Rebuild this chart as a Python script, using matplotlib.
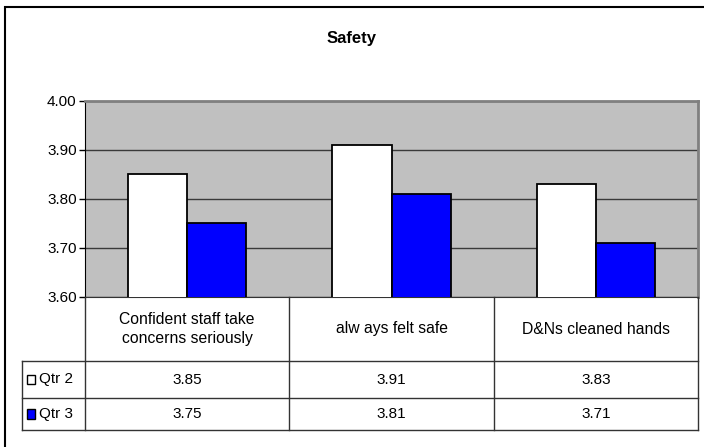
import matplotlib.pyplot as plt
import matplotlib.transforms as mtransforms
from matplotlib.lines import Line2D
from matplotlib.patches import Rectangle
import numpy as np

categories = ['Confident staff take\nconcerns seriously', 'alw ays felt safe', 'D&Ns cleaned hands']
series = ['Qtr 2', 'Qtr 3']
qtr2 = [3.85, 3.91, 3.83]
qtr3 = [3.75, 3.81, 3.71]
colors = ['#FFFFFF', '#0000FF']
y_ticks = [3.60, 3.70, 3.80, 3.90, 4.00]

plt.rcParams['font.family'] = ['Liberation Sans', 'DejaVu Sans']

W, H = 704, 447
fig = plt.figure(figsize=(W / 100, H / 100), dpi=100)


def fx(px):
    return px / W


def fy(py):
    return 1 - py / H


# outer chart frame (runs off the right and bottom of the picture)
fig.add_artist(Rectangle((fx(5), fy(470)), fx(720) - fx(5), fy(7) - fy(470),
                         fill=False, edgecolor='black', lw=1.5,
                         transform=fig.transFigure))

fig.text(fx(352), fy(38), 'Safety', ha='center', va='center',
         fontsize=12, fontweight='bold')

ax = fig.add_axes([fx(85), fy(297), fx(698) - fx(85), fy(100.7) - fy(297)])
ax.set_facecolor('#C0C0C0')

x = np.arange(len(categories))
width = 0.289
ax.bar(x - width / 2, qtr2, width, color=colors[0], edgecolor='black', lw=1.3, zorder=3)
ax.bar(x + width / 2, qtr3, width, color=colors[1], edgecolor='black', lw=1.3, zorder=3)

ax.set_xlim(-0.5, len(categories) - 0.5)
ax.set_ylim(y_ticks[0], y_ticks[-1])
ax.set_yticks(y_ticks, [f'{t:.2f}' for t in y_ticks])
ax.set_xticks([])
ax.tick_params(axis='y', length=4, width=1, labelsize=11, pad=2)
ax.yaxis.grid(True, color='#3a3a3a', lw=1)
ax.set_axisbelow(True)
for side in ['top', 'right']:
    ax.spines[side].set_color('#808080')
    ax.spines[side].set_linewidth(2)
ax.spines['left'].set_color('black')
ax.spines['bottom'].set_color('#333333')

# data table under the axis
trans = mtransforms.blended_transform_factory(ax.transData, fig.transFigure)
edges = np.arange(len(categories) + 1) - 0.5
y_top, y_head, y_row1, y_bot = 297, 361, 398, 430
line_kw = dict(color='#333333', lw=1)

for e in edges:
    fig.add_artist(Line2D([e, e], [fy(y_top), fy(y_bot)], transform=trans, **line_kw))
for yy in [y_head, y_row1, y_bot]:
    fig.add_artist(Line2D([fx(22), fx(698)], [fy(yy), fy(yy)],
                          transform=fig.transFigure, **line_kw))
fig.add_artist(Line2D([fx(22), fx(22)], [fy(y_head), fy(y_bot)],
                      transform=fig.transFigure, **line_kw))

for i, cat in enumerate(categories):
    fig.text(x[i], fy((y_top + y_head) / 2), cat, transform=trans, ha='center',
             va='center', fontsize=11.3, linespacing=1.4)

rows = [(y_head, y_row1), (y_row1, y_bot)]
for (r0, r1), name, vals, c in zip(rows, series, [qtr2, qtr3], colors):
    ym = (r0 + r1) / 2
    fig.add_artist(Rectangle((fx(27), fy(ym + 4.5)), fx(8), fy(ym - 4.5) - fy(ym + 4.5),
                             facecolor=c, edgecolor='black', lw=1,
                             transform=fig.transFigure))
    fig.text(fx(39), fy(ym), name, ha='left', va='center', fontsize=11)
    for i, v in enumerate(vals):
        fig.text(x[i], fy(ym), f'{v:.2f}', transform=trans, ha='center',
                 va='center', fontsize=11)

fig.savefig('out.png', dpi=100)
